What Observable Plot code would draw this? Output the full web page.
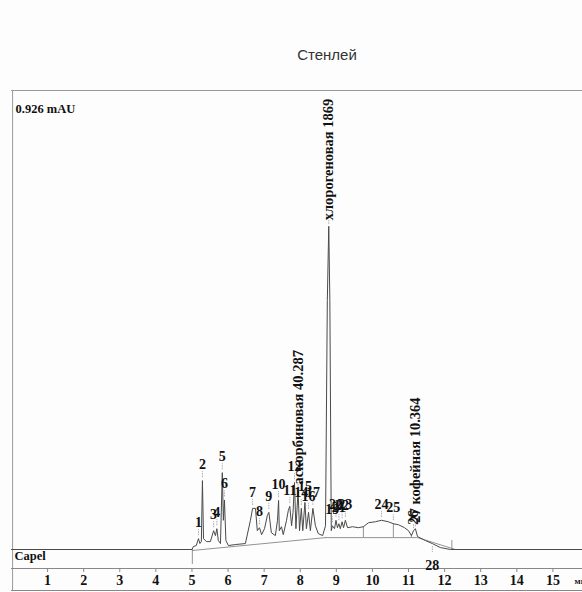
<!DOCTYPE html>
<html>
<head>
<meta charset="utf-8">
<script src="https://cdn.jsdelivr.net/npm/d3@7"></script>
<script src="https://cdn.jsdelivr.net/npm/@observablehq/plot@0.6"></script>
<style>
  html, body { margin: 0; padding: 0; background: #fdfdfd; overflow: hidden; }
  #wrap { position: relative; width: 582px; height: 592px; }
  #title { position: absolute; top: 46px; left: 0; width: 654px; text-align: center;
           font-family: "Liberation Sans", Arial, sans-serif; font-size: 15px; color: #333; }
  #chart { position: absolute; top: 80px; left: 0; }
</style>
</head>
<body>
<div id="wrap">
  <div id="title">Стенлей</div>
  <div id="chart"></div>
</div>
<script>
// ---- data (minutes, mAU) ----
const times = [0, 5.0, 5.04, 5.12, 5.18, 5.22, 5.26, 5.29, 5.32, 5.40, 5.51, 5.60, 5.65, 5.69, 5.73, 5.79,
  5.84, 5.87, 5.90, 5.94, 6.01, 6.20, 6.48, 6.62, 6.68, 6.76, 6.81, 6.87, 6.93, 7.01, 7.09, 7.13, 7.20,
  7.31, 7.37, 7.40, 7.42, 7.48, 7.53, 7.62, 7.67, 7.71, 7.76, 7.80, 7.84, 7.88, 7.94, 7.98, 8.03, 8.07,
  8.13, 8.17, 8.23, 8.28, 8.35, 8.42, 8.50, 8.62, 8.70, 8.75, 8.79, 8.82, 8.86, 8.89, 8.95, 8.99, 9.03,
  9.07, 9.11, 9.16, 9.20, 9.25, 9.31, 9.45, 9.61, 9.75, 9.89, 10.08, 10.25, 10.44, 10.58, 10.72, 10.89,
  11.00, 11.08, 11.14, 11.19, 11.25, 11.47, 11.66, 11.88, 12.16, 15.82];
const signal = [0, 0, 0.006, 0.008, 0.022, 0.012, 0.016, 0.139, 0.022, 0.016, 0.016, 0.038, 0.028, 0.042, 0.018, 0.012,
  0.155, 0.059, 0.100, 0.018, 0.008, 0.010, 0.012, 0.059, 0.083, 0.083, 0.038, 0.044, 0.030, 0.042, 0.069, 0.075, 0.034,
  0.028, 0.059, 0.099, 0.038, 0.046, 0.030, 0.059, 0.079, 0.087, 0.048, 0.075, 0.135, 0.042, 0.119, 0.038, 0.083, 0.038,
  0.095, 0.042, 0.075, 0.038, 0.083, 0.048, 0.032, 0.028, 0.048, 0.502, 0.652, 0.502, 0.038, 0.048, 0.042, 0.059, 0.044,
  0.052, 0.042, 0.056, 0.044, 0.059, 0.044, 0.046, 0.044, 0.046, 0.054, 0.056, 0.059, 0.056, 0.052, 0.050, 0.044,
  0.038, 0.028, 0.038, 0.042, 0.026, 0.018, 0.012, 0.004, 0, 0];

const peakNo     = ["1","2","3","4","5","6","7","8","9","10","11","12","14","15","16","17","19","20","21","22","23","24","25"];
const peakTime   = [5.18, 5.29, 5.60, 5.69, 5.84, 5.90, 6.68, 6.87, 7.13, 7.40, 7.71, 7.84, 8.03, 8.13, 8.23, 8.35, 8.89, 8.99, 9.07, 9.16, 9.25, 10.25, 10.58];
const peakHeight = [0.022, 0.139, 0.038, 0.042, 0.155, 0.100, 0.083, 0.044, 0.075, 0.099, 0.087, 0.135, 0.083, 0.095, 0.075, 0.083, 0.048, 0.059, 0.052, 0.056, 0.059, 0.059, 0.052];

const namedText   = ["аскорбиновая 40.287", "хлорогеновая 1869", "26", "27 кофейная 10.364"];
const namedTime   = [7.94, 8.79, 11.14, 11.19];
const namedHeight = [0.119, 0.652, 0.038, 0.042];

const belowNo = ["28"], belowTime = [11.66], belowHeight = [0.012];

const baseSeg   = ["a", "a", "b", "b", "b"];
const baseTime  = [5.01, 8.70, 8.70, 11.25, 12.3];
const baseValue = [-0.002, 0.024, 0.024, 0.024, 0];

const dropTime = [5.01, 9.75, 10.58, 11.08, 12.2];
const dropLow  = [-0.03, 0.024, 0.024, 0.024, 0];
const dropHigh = [0.002, 0.046, 0.052, 0.030, 0.018];

const xTicks = [1, 2, 3, 4, 5, 6, 7, 8, 9, 10, 11, 12, 13, 14, 15];
const yTop = 0.926, yBottom = -0.0383, xMax = 15.82;

// ---- tables ----
const trace = times.map((t, i) => ({t, v: signal[i]}));
const peaks = peakNo.map((n, i) => ({n, t: peakTime[i], v: peakHeight[i]}));
const named = namedText.map((n, i) => ({n, t: namedTime[i], v: namedHeight[i]}));
const below = belowNo.map((n, i) => ({n, t: belowTime[i], v: belowHeight[i]}));
const base = baseSeg.map((s, i) => ({s, t: baseTime[i], v: baseValue[i]}));
const drops = dropTime.map((t, i) => ({t, lo: dropLow[i], hi: dropHigh[i]}));

const serif = "'Liberation Serif', 'Times New Roman', serif";
const lab = {fontFamily: serif, fontWeight: "bold", fill: "#111"};
const hasAxis = typeof Plot.axisX === "function";

const marks = [
  Plot.ruleY([yTop], {stroke: "#999"}),
  Plot.ruleX([0.03], {stroke: "#999", insetBottom: -22}),
  Plot.ruleY([yBottom], {stroke: "#888"}),
  Plot.ruleY([yBottom], {stroke: "#888", dy: 22}),
  Plot.line(base, {x: "t", y: "v", z: "s", stroke: "#777", strokeWidth: 0.8}),
  Plot.ruleX(drops, {x: "t", y1: "lo", y2: "hi", stroke: "#777", strokeWidth: 0.8}),
  Plot.line(trace, {x: "t", y: "v", stroke: "#4a4a4a", strokeWidth: 1}),
  Plot.ruleX(peaks, {x: "t", y1: "v", y2: d => d.v + 0.012, dy: -3, stroke: "#aaa", strokeDasharray: "1.5,1"}),
  Plot.ruleX(named, {x: "t", y1: "v", y2: d => d.v + 0.008, dy: -2, stroke: "#aaa", strokeDasharray: "1.5,1"}),
  Plot.ruleX(below, {x: "t", y1: "v", y2: d => d.v - 0.012, dy: 3, stroke: "#aaa", strokeDasharray: "1.5,1"}),
  Plot.text(peaks, {x: "t", y: "v", text: "n", dy: -16, fontSize: 14, ...lab}),
  Plot.text(named, {x: "t", y: "v", text: "n", dy: -6, rotate: -90, textAnchor: "start", fontSize: 14.5, ...lab}),
  Plot.text(below, {x: "t", y: "v", text: "n", dy: 22, fontSize: 14, ...lab}),
  Plot.text(["0.926 mAU"], {frameAnchor: "top-left", dx: 4, dy: 14, textAnchor: "start", fontSize: 12.5, ...lab}),
  Plot.text(["Capel"], {frameAnchor: "bottom-left", dx: 3, dy: -9, textAnchor: "start", fontSize: 12.5, ...lab}),
  Plot.text(["мин"], {frameAnchor: "bottom-right", dx: -8, dy: 15, textAnchor: "start", fontSize: 9, ...lab})
];
if (hasAxis) {
  marks.push(Plot.axisX(xTicks, {anchor: "bottom", tickSize: 4, tickPadding: 3, stroke: "#888",
    fontSize: 14, fontWeight: "bold", fontFamily: serif, fill: "#111", label: null}));
}

const chart = Plot.plot({
  width: 582, height: 512,
  marginLeft: 11, marginRight: 0, marginTop: 10, marginBottom: 24,
  x: hasAxis ? {domain: [0, xMax], axis: null}
             : {domain: [0, xMax], ticks: xTicks, tickSize: 4, tickPadding: 3, label: null},
  y: {domain: [yBottom, yTop], axis: null},
  style: {background: "transparent", fontFamily: serif, fontWeight: "bold", fontSize: "14px", color: "#111"},
  marks
});
document.getElementById("chart").appendChild(chart);
</script>
</body>
</html>
